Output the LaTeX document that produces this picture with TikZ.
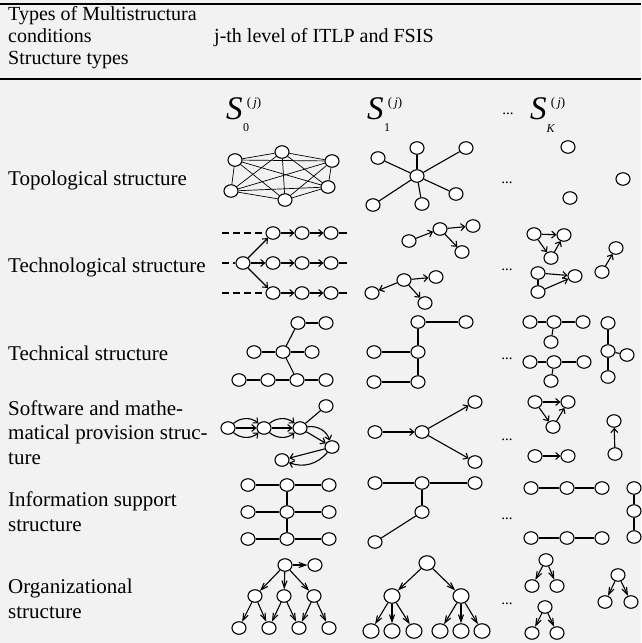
\documentclass[tikz,border=0pt]{standalone}
\usepackage{fontspec}
\setmainfont{Liberation Serif}
\usetikzlibrary{arrows.meta,shapes.geometric,positioning}

\definecolor{pagegray}{RGB}{242,242,242}

\tikzset{
  vtx/.style={draw,ellipse,fill=white,line width=1.1pt,inner sep=0pt,
    minimum width=14pt,minimum height=12.5pt},
  bigvtx/.style={vtx,minimum width=16pt,minimum height=14.5pt},
  lnk/.style={line width=1.1pt},
  fine/.style={line width=0.7pt},
  dashlnk/.style={line width=1.4pt,dash pattern=on 7pt off 4pt},
  orgarr/.style={lnk,->,>={Straight Barb[length=7pt,width=5pt]}},
  rowlabel/.style={anchor=base west,align=left,inner sep=0pt,
    font=\fontsize{21}{24.5}\selectfont},
  headtext/.style={anchor=base west,inner sep=0pt,font=\fontsize{20}{22}\selectfont},
  ellip/.style={inner sep=0pt,font=\fontsize{15}{15}\selectfont},
  slet/.style={anchor=base west,inner sep=0pt,font=\fontsize{33}{33}\selectfont\itshape},
  ssup/.style={inner sep=0pt,font=\fontsize{13}{13}\selectfont},
  ssub/.style={inner sep=0pt,font=\fontsize{12}{12}\selectfont},
  tabrule/.style={line width=2.4pt}
}

\begin{document}
\begin{tikzpicture}[x=1pt,y=-1pt,node distance=29pt,
    >={Straight Barb[length=4pt,width=7pt]}]
\useasboundingbox (0,0) rectangle (641,643);
\fill[pagegray] (0,0) rectangle (641,643);

% table head
\coordinate (topL) at (0,4);
\coordinate (topR) at (641,4);
\coordinate (midL) at (0,79);
\coordinate (midR) at (641,79);
\draw[tabrule] (topL) -- (topR);
\draw[tabrule] (midL) -- (midR);
\node[headtext] (hd1) at (8,20) {Types of Multistructura};
\node[headtext] (hd2) at (8,42) {conditions};
\node[headtext] (hd3) at (8,64) {Structure types};
\node[headtext] (hdlev) at (214,42) {j-th level of ITLP and FSIS};

% column heads
\node[slet] (s0) at (226,119) {S};
\node[ssup] (s0up) at (254,103) {(\,\textit{j})};
\node[ssub] (s0dn) at (246,128) {0};
\node[slet] (s1) at (367,119) {S};
\node[ssup] (s1up) at (395,103) {(\,\textit{j})};
\node[ssub] (s1dn) at (387,128) {1};
\node[ellip] (sdots) at (508,114) {...};
\node[slet] (sK) at (530,119) {S};
\node[ssup] (sKup) at (558,103) {(\,\textit{j})};
\node[ssub] (sKdn) at (551,129) {\textit{K}};

% row labels (base = last line)
\node[rowlabel] (lbtopo) at (8,185) {Topological structure};
\node[rowlabel] (lbtechno) at (8,272) {Technological structure};
\node[rowlabel] (lbtechni) at (8,360) {Technical structure};
\node[rowlabel] (lbsoft) at (8,464) {Software and mathe-\\matical provision struc-\\ture};
\node[rowlabel] (lbinfo) at (8,531) {Information support\\structure};
\node[rowlabel] (lborg) at (8,618) {Organizational\\structure};

% topological structure
\node[vtx] (t0a) at (235,160) {};
\node[vtx] (t0b) at (282,152) {};
\node[vtx] (t0c) at (332,161) {};
\node[vtx] (t0d) at (231,191) {};
\node[vtx] (t0e) at (285,200) {};
\node[vtx] (t0f) at (328,187) {};
\path[fine]
  (t0a) edge (t0b) edge (t0c) edge (t0d) edge (t0e) edge (t0f)
  (t0b) edge (t0c) edge (t0d) edge (t0e) edge (t0f)
  (t0c) edge (t0d) edge (t0e) edge (t0f)
  (t0d) edge (t0e) edge (t0f)
  (t0e) edge (t0f);

\node[vtx] (t1o) at (417,176) {};
\node[vtx] (t1a) at (378,158) {};
\node[vtx] (t1b) at (417,148) {};
\node[vtx] (t1c) at (466,148) {};
\node[vtx] (t1d) at (373,205) {};
\node[vtx] (t1e) at (422,204) {};
\node[vtx] (t1f) at (456,194) {};
\path[lnk] (t1o) edge (t1a) edge (t1b) edge (t1c) edge (t1d) edge (t1e) edge (t1f);

\node[ellip] (tdots) at (507,183) {...};
\node[vtx] (tKa) at (568,147) {};
\node[vtx] (tKb) at (623,179) {};
\node[vtx] (tKc) at (570,198) {};

% technological structure
\coordinate (g0ta) at (222,233);
\coordinate (g0ma) at (222,263);
\coordinate (g0ba) at (222,293);
\node[vtx] (g0s)  at (243,263) {};
\node[vtx] (g0a1) at (273,233) {};
\node[vtx] (g0a2) [right of=g0a1] {};
\node[vtx] (g0a3) [right of=g0a2] {};
\node[vtx] (g0b1) at (273,263) {};
\node[vtx] (g0b2) [right of=g0b1] {};
\node[vtx] (g0b3) [right of=g0b2] {};
\node[vtx] (g0c1) at (273,293) {};
\node[vtx] (g0c2) [right of=g0c1] {};
\node[vtx] (g0c3) [right of=g0c2] {};
\coordinate (g0tz) at (347,233);
\coordinate (g0mz) at (347,263);
\coordinate (g0bz) at (347,293);
\draw[dashlnk] (g0ta) -- (g0a1);
\draw[dashlnk] (g0ma) -- (g0s);
\draw[dashlnk] (g0ba) -- (g0c1);
\path[lnk,->]
  (g0s) edge (g0a1) edge (g0b1) edge (g0c1)
  (g0a1) edge (g0a2) (g0a2) edge (g0a3)
  (g0b1) edge (g0b2) (g0b2) edge (g0b3)
  (g0c1) edge (g0c2) (g0c2) edge (g0c3);
\path[lnk] (g0a3) edge (g0tz) (g0b3) edge (g0mz) (g0c3) edge (g0bz);

\node[vtx] (g1a) at (409,241) {};
\node[vtx] (g1b) at (440,229) {};
\node[vtx] (g1c) at (473,226) {};
\node[vtx] (g1d) at (462,252) {};
\node[vtx] (g1e) at (372,293) {};
\node[vtx] (g1f) at (404,280) {};
\node[vtx] (g1g) at (436,277) {};
\node[vtx] (g1h) at (425,303) {};
\path[lnk,->]
  (g1a) edge (g1b)
  (g1b) edge (g1c) edge (g1d)
  (g1f) edge (g1e) edge (g1g) edge (g1h);

\node[ellip] (gdots) at (507,270) {...};
\node[vtx] (gKa) at (534,234) {};
\node[vtx] (gKb) at (564,235) {};
\node[vtx] (gKc) at (551,258) {};
\node[vtx] (gKd) at (538,273) {};
\node[vtx] (gKe) at (538,292) {};
\node[vtx] (gKf) at (575,276) {};
\node[vtx] (gKg) at (602,272) {};
\node[vtx] (gKh) at (616,248) {};
\path[lnk,->]
  (gKa) edge (gKb) edge (gKc)
  (gKc) edge (gKb)
  (gKd) edge (gKf)
  (gKe) edge (gKf)
  (gKg) edge (gKh);
\path[lnk] (gKd) edge (gKe);

% technical structure
\node[vtx] (c0a) at (298,323) {};
\node[vtx] (c0b) at (326,323) {};
\node[vtx] (c0c) at (254,352) {};
\node[vtx] (c0d) [right of=c0c] {};
\node[vtx] (c0e) [right of=c0d] {};
\node[vtx] (c0f) at (239,380) {};
\node[vtx] (c0g) [right of=c0f] {};
\node[vtx] (c0h) [right of=c0g] {};
\node[vtx] (c0i) [right of=c0h] {};
\path[lnk]
  (c0a) edge (c0b)
  (c0d) edge (c0a) edge (c0c) edge (c0e) edge (c0h)
  (c0f) edge (c0g) (c0g) edge (c0h) (c0h) edge (c0i);

\node[vtx] (c1a) at (418,322) {};
\node[vtx] (c1b) at (466,322) {};
\node[vtx] (c1c) at (374,352) {};
\node[vtx] (c1d) at (418,352) {};
\node[vtx] (c1e) at (374,382) {};
\node[vtx] (c1f) at (418,382) {};
\path[lnk]
  (c1a) edge (c1b) edge (c1d)
  (c1c) edge (c1d)
  (c1d) edge (c1f)
  (c1e) edge (c1f);

\node[ellip] (cdots) at (507,359) {...};
\node[vtx] (cKa) at (530,322) {};
\node[vtx] (cKb) at (554,322) {};
\node[vtx] (cKc) at (583,322) {};
\node[vtx] (cKd) at (551,342) {};
\node[vtx] (cKe) at (530,362) {};
\node[vtx] (cKf) at (554,362) {};
\node[vtx] (cKg) at (584,362) {};
\node[vtx] (cKh) at (551,381) {};
\node[vtx] (cKi) at (608,323) {};
\node[vtx] (cKj) at (608,351) {};
\node[vtx] (cKk) at (627,355) {};
\node[vtx] (cKl) at (608,377) {};
\path[lnk]
  (cKb) edge (cKa) edge (cKc) edge (cKd)
  (cKf) edge (cKe) edge (cKg) edge (cKh)
  (cKj) edge (cKi) edge (cKk) edge (cKl);

% software and mathematical provision structure
\node[vtx] (p0a) at (228,428) {};
\node[vtx] (p0b) at (264,428) {};
\node[vtx] (p0c) at (300,428) {};
\node[vtx] (p0d) at (326,406) {};
\node[vtx] (p0e) at (332,447) {};
\node[vtx] (p0f) at (282,460) {};
\path[lnk,->]
  (p0a) edge (p0b) edge[bend left=40] (p0b) edge[bend right=40] (p0b)
  (p0b) edge (p0c) edge[bend left=40] (p0c) edge[bend right=40] (p0c)
  (p0c) edge (p0e) edge[bend left=40] (p0e)
  (p0e) edge (p0f) edge[bend left=35] (p0f);
\path[lnk] (p0c) edge (p0d);

\node[vtx] (p1a) at (375,432) {};
\node[vtx] (p1b) at (422,432) {};
\node[vtx] (p1c) at (475,402) {};
\node[vtx] (p1d) at (475,462) {};
\path[lnk,->] (p1a) edge (p1b) (p1b) edge (p1c) edge (p1d);

\node[ellip] (pdots) at (507,440) {...};
\node[vtx] (pKa) at (535,402) {};
\node[vtx] (pKb) at (568,402) {};
\node[vtx] (pKc) at (553,427) {};
\node[vtx] (pKd) at (535,456) {};
\node[vtx] (pKe) at (568,456) {};
\node[vtx] (pKf) at (614,421) {};
\node[vtx] (pKg) at (615,454) {};
\path[lnk,->]
  (pKa) edge (pKb) edge (pKc)
  (pKc) edge (pKb)
  (pKd) edge (pKe)
  (pKg) edge (pKf);

% information support structure
\node[vtx] (i0a) at (248,485) {};
\node[vtx] (i0b) at (287,485) {};
\node[vtx] (i0c) at (329,485) {};
\node[vtx] (i0d) at (248,512) {};
\node[vtx] (i0e) at (287,512) {};
\node[vtx] (i0f) at (329,512) {};
\node[vtx] (i0g) at (248,539) {};
\node[vtx] (i0h) at (287,539) {};
\node[vtx] (i0i) at (329,539) {};
\path[lnk]
  (i0a) edge (i0b) (i0b) edge (i0c)
  (i0d) edge (i0e) (i0e) edge (i0f)
  (i0g) edge (i0h) (i0h) edge (i0i)
  (i0b) edge (i0e) (i0e) edge (i0h);

\node[vtx] (i1a) at (375,483) {};
\node[vtx] (i1b) at (422,483) {};
\node[vtx] (i1c) at (475,483) {};
\node[vtx] (i1d) at (422,512) {};
\node[vtx] (i1e) at (375,542) {};
\path[lnk] (i1b) edge (i1a) edge (i1c) edge (i1d) (i1d) edge (i1e);

\node[ellip] (idots) at (507,519) {...};
\node[vtx] (iKa) at (531,488) {};
\node[vtx] (iKb) at (567,488) {};
\node[vtx] (iKc) at (602,488) {};
\node[vtx] (iKd) at (531,538) {};
\node[vtx] (iKe) at (567,538) {};
\node[vtx] (iKf) at (602,538) {};
\node[vtx] (iKg) at (634,488) {};
\node[vtx] (iKh) at (634,511) {};
\node[vtx] (iKi) at (634,537) {};
\path[lnk]
  (iKb) edge (iKa) edge (iKc)
  (iKe) edge (iKd) edge (iKf)
  (iKh) edge (iKg) edge (iKi);

% organizational structure
\node[vtx] (o0r) at (285,565) {};
\node[vtx] (o0s) at (315,565) {};
\node[vtx] (o0a) at (255,596) {};
\node[vtx] (o0b) at (284,596) {};
\node[vtx] (o0c) at (314,596) {};
\node[vtx] (o0d) at (239,628) {};
\node[vtx] (o0e) at (269,628) {};
\node[vtx] (o0f) at (299,628) {};
\node[vtx] (o0g) at (329,628) {};
\path[orgarr]
  (o0r) edge (o0s) edge (o0a) edge (o0b) edge (o0c)
  (o0a) edge (o0d) edge (o0e)
  (o0b) edge (o0e) edge (o0f)
  (o0c) edge (o0f) edge (o0g);

\node[bigvtx] (o1r) at (427,563) {};
\node[bigvtx] (o1a) at (392,596) {};
\node[bigvtx] (o1b) at (461,596) {};
\node[bigvtx] (o1c) at (371,631) {};
\node[bigvtx] (o1d) at (392,631) {};
\node[bigvtx] (o1e) at (414,631) {};
\node[bigvtx] (o1f) at (440,631) {};
\node[bigvtx] (o1g) at (461,631) {};
\node[bigvtx] (o1h) at (482,631) {};
\path[orgarr]
  (o1r) edge (o1a) edge (o1b)
  (o1a) edge (o1c) edge (o1d) edge (o1e)
  (o1b) edge (o1f) edge (o1g) edge (o1h);

\node[ellip] (odots) at (507,604) {...};
\node[vtx] (oKa) at (546,560) {};
\node[vtx] (oKb) at (532,586) {};
\node[vtx] (oKc) at (557,586) {};
\node[vtx] (oKd) at (545,607) {};
\node[vtx] (oKe) at (532,633) {};
\node[vtx] (oKf) at (557,633) {};
\node[vtx] (oKg) at (618,575) {};
\node[vtx] (oKh) at (605,602) {};
\node[vtx] (oKi) at (631,602) {};
\path[orgarr]
  (oKa) edge (oKb) edge (oKc)
  (oKd) edge (oKe) edge (oKf)
  (oKg) edge (oKh) edge (oKi);
\end{tikzpicture}
\end{document}
